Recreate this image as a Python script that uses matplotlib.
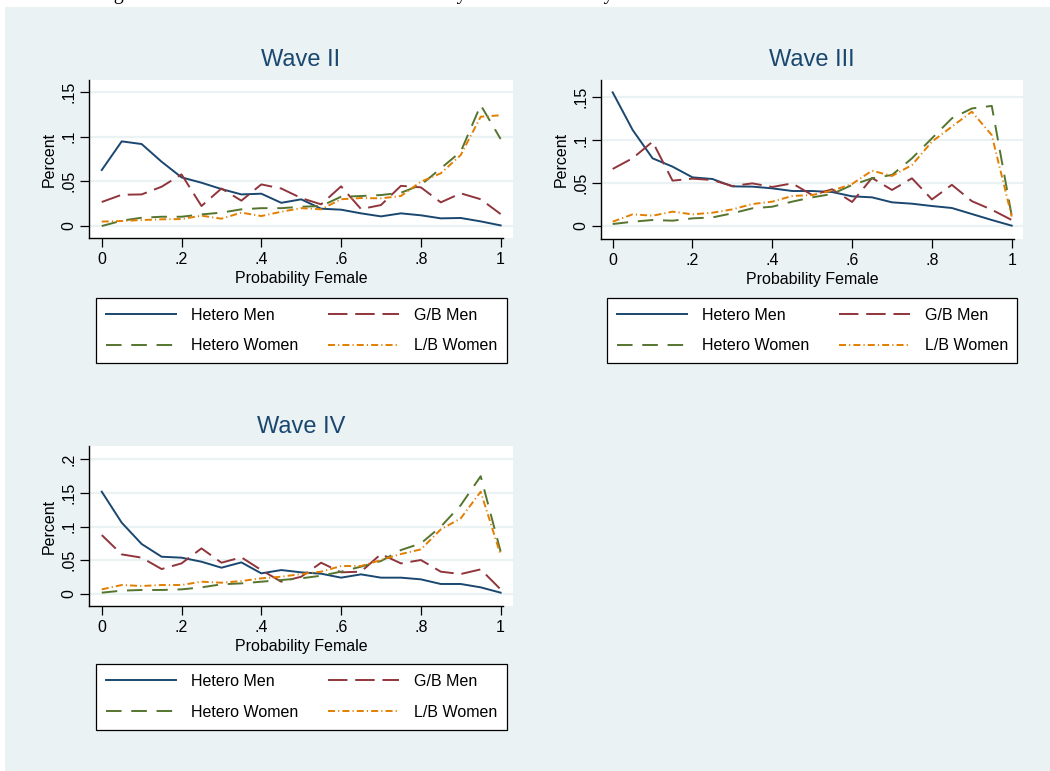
import matplotlib
matplotlib.use("Agg")
import matplotlib.pyplot as plt
from matplotlib.patches import Rectangle

plt.rcParams['font.family'] = ['Liberation Sans', 'DejaVu Sans']

# ---------------- data ----------------
prob_female = [0.00, 0.05, 0.10, 0.15, 0.20, 0.25, 0.30, 0.35, 0.40, 0.45, 0.50,
               0.55, 0.60, 0.65, 0.70, 0.75, 0.80, 0.85, 0.90, 0.95, 1.00]

series_labels = ["Hetero Men", "G/B Men", "Hetero Women", "L/B Women"]

# Wave II
w2_hetero_men = [0.0627, 0.0948, 0.0918, 0.0720, 0.0545, 0.0485, 0.0414, 0.0354, 0.0362, 0.0260, 0.0299,
                 0.0194, 0.0183, 0.0142, 0.0108, 0.0142, 0.0120, 0.0086, 0.0090, 0.0052, 0.0007]
w2_gb_men = [0.0269, 0.0350, 0.0354, 0.0440, 0.0578, 0.0224, 0.0420, 0.0284, 0.0466, 0.0420, 0.0313,
             0.0243, 0.0444, 0.0190, 0.0235, 0.0450, 0.0433, 0.0265, 0.0366, 0.0300, 0.0134]
w2_hetero_women = [0.0000, 0.0060, 0.0093, 0.0104, 0.0104, 0.0130, 0.0150, 0.0187, 0.0200, 0.0200, 0.0216,
                   0.0224, 0.0328, 0.0336, 0.0347, 0.0373, 0.0459, 0.0646, 0.0832, 0.1354, 0.0974]
w2_lb_women = [0.0050, 0.0056, 0.0067, 0.0075, 0.0078, 0.0116, 0.0082, 0.0150, 0.0112, 0.0160, 0.0200,
               0.0187, 0.0300, 0.0313, 0.0310, 0.0336, 0.0496, 0.0590, 0.0795, 0.1224, 0.1240]

# Wave III
w3_hetero_men = [0.1558, 0.1120, 0.0789, 0.0692, 0.0567, 0.0548, 0.0462, 0.0459, 0.0439, 0.0408, 0.0408,
                 0.0396, 0.0346, 0.0334, 0.0276, 0.0260, 0.0233, 0.0210, 0.0140, 0.0070, 0.0004]
w3_gb_men = [0.0665, 0.0790, 0.0983, 0.0529, 0.0552, 0.0536, 0.0466, 0.0497, 0.0455, 0.0497, 0.0361,
             0.0428, 0.0280, 0.0560, 0.0420, 0.0556, 0.0310, 0.0480, 0.0290, 0.0190, 0.0070]
w3_hetero_women = [0.0023, 0.0050, 0.0070, 0.0062, 0.0089, 0.0100, 0.0148, 0.0206, 0.0225, 0.0284, 0.0334,
                   0.0373, 0.0478, 0.0556, 0.0595, 0.0789, 0.1022, 0.1255, 0.1370, 0.1400, 0.0120]
w3_lb_women = [0.0050, 0.0136, 0.0120, 0.0167, 0.0136, 0.0155, 0.0194, 0.0256, 0.0284, 0.0350, 0.0361,
               0.0412, 0.0490, 0.0645, 0.0583, 0.0711, 0.0983, 0.1158, 0.1333, 0.1060, 0.0110]

# Wave IV
w4_hetero_men = [0.1520, 0.1060, 0.0743, 0.0554, 0.0540, 0.0480, 0.0391, 0.0470, 0.0307, 0.0356, 0.0322,
                 0.0302, 0.0243, 0.0292, 0.0243, 0.0243, 0.0218, 0.0149, 0.0149, 0.0099, 0.0020]
w4_gb_men = [0.0876, 0.0589, 0.0540, 0.0371, 0.0455, 0.0678, 0.0465, 0.0545, 0.0356, 0.0183, 0.0257,
             0.0465, 0.0322, 0.0332, 0.0594, 0.0455, 0.0505, 0.0332, 0.0297, 0.0366, 0.0069]
w4_hetero_women = [0.0020, 0.0050, 0.0060, 0.0060, 0.0069, 0.0099, 0.0144, 0.0158, 0.0183, 0.0208, 0.0233,
                   0.0272, 0.0332, 0.0406, 0.0490, 0.0653, 0.0752, 0.1000, 0.1320, 0.1750, 0.0629]
w4_lb_women = [0.0069, 0.0134, 0.0119, 0.0134, 0.0134, 0.0183, 0.0168, 0.0193, 0.0233, 0.0257, 0.0297,
               0.0332, 0.0416, 0.0416, 0.0505, 0.0594, 0.0663, 0.0960, 0.1124, 0.1520, 0.0580]

wave_titles = ["Wave II", "Wave III", "Wave IV"]
x_ticks = [0, 0.2, 0.4, 0.6, 0.8, 1.0]
x_ticklabels = ["0", ".2", ".4", ".6", ".8", "1"]
y_ticks_23 = [0, 0.05, 0.10, 0.15]
y_ticklabels_23 = ["0", ".05", ".1", ".15"]
y_ticks_4 = [0, 0.05, 0.10, 0.15, 0.20]
y_ticklabels_4 = ["0", ".05", ".1", ".15", ".2"]
caption = "Figure 2: Distribution of Predicted Probability Female Scores by Sexual Orientation and Wave"

# ---------------- styles ----------------
W, H = 1050, 771
BG = "#EAF2F3"
colors = ["#1a476f", "#90353b", "#55752f", "#e37e00"]
LW = 1.4
styles = ["-", (0, (10.0, 4.0)), (0, (8.0, 5.0)), (0, (3.6, 1.6, 0.6, 1.6))]

fig = plt.figure(figsize=(W / 100, H / 100), dpi=100)
fig.patch.set_facecolor("white")
fig.patches.append(Rectangle((5 / W, 0), 1 - 5 / W, (H - 7) / H, transform=fig.transFigure,
                             facecolor=BG, edgecolor="none", zorder=-10))

# caption line of the page above the figure: only its descenders reach into view
fig.text(97 / W, 1 + 1.5 / H, caption, family="Liberation Serif", fontsize=14.3,
         ha="left", va="baseline", color="black")


def px_axes(left, right, top, bottom):
    return fig.add_axes([left / W, (H - bottom) / H, (right - left) / W, (bottom - top) / H])


panels = [
    dict(rect=(89, 513, 80, 238), xlim=(-0.032, 1.031), ylim=(-0.0134, 0.1635),
         yt=y_ticks_23, ytl=y_ticklabels_23,
         data=[w2_hetero_men, w2_gb_men, w2_hetero_women, w2_lb_women],
         title=wave_titles[0], title_y=60, leg=(301.5, 330.5)),
    dict(rect=(600.7, 1023, 80, 239), xlim=(-0.030, 1.0283), ylim=(-0.01515, 0.1702),
         yt=y_ticks_23, ytl=y_ticklabels_23,
         data=[w3_hetero_men, w3_gb_men, w3_hetero_women, w3_lb_women],
         title=wave_titles[1], title_y=60, leg=(812.3, 330.5)),
    dict(rect=(89, 513, 446, 606), xlim=(-0.032, 1.031), ylim=(-0.0178, 0.2199),
         yt=y_ticks_4, ytl=y_ticklabels_4,
         data=[w4_hetero_men, w4_gb_men, w4_hetero_women, w4_lb_women],
         title=wave_titles[2], title_y=427, leg=(301.5, 697)),
]

for p in panels:
    l, r, t, b = p["rect"]
    ax = px_axes(l, r, t, b)
    ax.set_facecolor("white")
    for yv in p["yt"]:
        ax.axhline(yv, color=BG, lw=1.6, zorder=0)
    for vals, c, ls, lab in zip(p["data"], colors, styles, series_labels):
        ax.plot(prob_female, vals, color=c, lw=LW, linestyle=ls, label=lab, zorder=3)
    ax.set_xlim(*p["xlim"])
    ax.set_ylim(*p["ylim"])
    for s in ["top", "right"]:
        ax.spines[s].set_visible(False)
    for s in ["left", "bottom"]:
        ax.spines[s].set_linewidth(1.0)
        ax.spines[s].set_color("black")
    ax.spines["bottom"].set_bounds(p["xlim"][0], 1.006)
    ax.set_xticks(x_ticks)
    ax.set_xticklabels(x_ticklabels)
    ax.set_yticks(p["yt"])
    ax.set_yticklabels(p["ytl"], rotation=90, va="center")
    ax.tick_params(axis="both", direction="out", length=6.5, width=0.9, labelsize=11.5, colors="black")
    ax.tick_params(axis="y", pad=2.3)
    ax.tick_params(axis="x", pad=3.3)
    ax.set_xlabel("Probability Female", fontsize=11.5, labelpad=3.5)
    ax.set_ylabel("Percent", fontsize=11.5, labelpad=3.5)
    cx = (l + r) / 2
    fig.text(cx / W, 1 - p["title_y"] / H, p["title"], fontsize=17, color="#1a476f",
             ha="center", va="center")
    handles, labels = ax.get_legend_handles_labels()
    order = [0, 2, 1, 3]
    leg = fig.legend([handles[i] for i in order], [labels[i] for i in order], ncol=2,
                     loc="center", bbox_to_anchor=(p["leg"][0] / W, 1 - p["leg"][1] / H),
                     bbox_transform=fig.transFigure, fontsize=11.5, frameon=True,
                     fancybox=False, edgecolor="black", framealpha=1, handlelength=4.4,
                     handletextpad=0.94, columnspacing=1.87, labelspacing=1.0,
                     borderpad=0.6, borderaxespad=0)
    leg.get_frame().set_linewidth(0.9)

fig.savefig("out.png", dpi=100, facecolor=fig.get_facecolor())
